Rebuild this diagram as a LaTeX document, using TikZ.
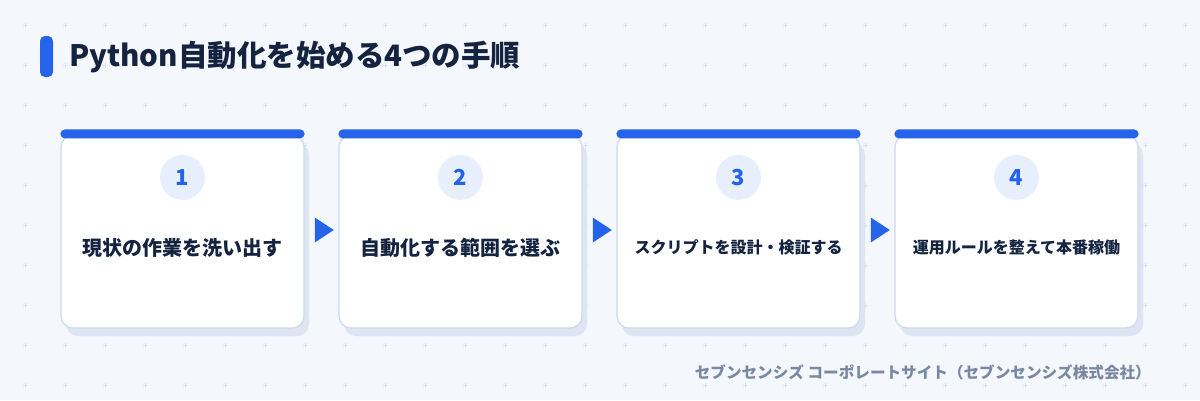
\documentclass[tikz,border=0pt]{standalone}
\usepackage{fontspec}
\setmainfont{Noto Sans CJK JP}
\usetikzlibrary{positioning,shapes.geometric,shadows}

\definecolor{pagebg}{HTML}{F4F7FC}
\definecolor{flowblue}{HTML}{2563EB}
\definecolor{navyink}{HTML}{14233F}
\definecolor{cardedge}{HTML}{CDDAEC}
\definecolor{cardshade}{HTML}{DCE5F1}
\definecolor{badgefill}{HTML}{E7EFFC}
\definecolor{footgray}{HTML}{7A89A3}
\definecolor{gridmark}{HTML}{DCE3EE}

\tikzset{
	stepcard/.style={draw=cardedge, line width=1.2pt, fill=white,
		rounded corners=12pt, minimum width=243pt, minimum height=193pt,
		inner sep=0pt,
		general shadow={fill=cardshade, draw=none, shadow xshift=5pt, shadow yshift=-8pt}},
	topbar/.style={fill=flowblue, rounded corners=4.5pt},
	numbadge/.style={circle, fill=badgefill, minimum size=45pt, inner sep=0pt,
		text=flowblue, font=\bfseries\fontsize{22}{22}\selectfont},
	steplabel/.style={text=navyink, inner sep=0pt},
	flowtip/.style={isosceles triangle, isosceles triangle stretches, fill=flowblue,
		minimum height=19pt, minimum width=25pt, inner sep=0pt}
}

\begin{document}
\begin{tikzpicture}[x=1pt,y=-1pt]
	\fill[pagebg] (0,0) rectangle (1200,400);
	\useasboundingbox (0,0) rectangle (1200,400);

	\foreach \gx in {0,...,29}
		\foreach \gy in {0,...,9}
			\draw[gridmark, line width=0.8pt]
				(25+40*\gx-2.5,25+40*\gy) -- ++(5,0)
				(25+40*\gx,25+40*\gy-2.5) -- ++(0,5);

	\node[fill=flowblue, rounded corners=5pt, minimum width=13pt, minimum height=41pt,
		inner sep=0pt] (titlebar) at (46.5,56.5) {};
	\node[anchor=west, text=navyink, inner sep=0pt,
		font=\bfseries\fontsize{29.5}{29.5}\selectfont] (title) at (69,57)
		{Python自動化を始める4つの手順};

	\foreach \n/\lbl/\fs in {
		1/現状の作業を洗い出す/20,
		2/自動化する範囲を選ぶ/20,
		3/スクリプトを設計・検証する/16,
		4/運用ルールを整えて本番稼働/16}
	{
		\node[stepcard] (card\n) at (182.5+278*\n-278,231.5) {};
		\fill[topbar] ([yshift=5pt]card\n.north west) rectangle ([yshift=-4pt]card\n.north east);
		\node[numbadge] (num\n) at ([yshift=-43pt]card\n.north) {\n};
		\node[steplabel, font=\bfseries\fontsize{\fs}{\fs}\selectfont]
			(label\n) at ([yshift=-16pt]card\n.center) {\lbl};
	}

	\foreach \n/\m in {1/2,2/3,3/4}
		\path (card\n) -- node[flowtip, yshift=1.5pt] (tip\n) {} (card\m);

	\node[anchor=east, text=footgray, inner sep=0pt,
		font=\bfseries\fontsize{15.6}{15.6}\selectfont] (footer) at (1151,372)
		{セブンセンシズ コーポレートサイト（セブンセンシズ株式会社）};
\end{tikzpicture}
\end{document}
